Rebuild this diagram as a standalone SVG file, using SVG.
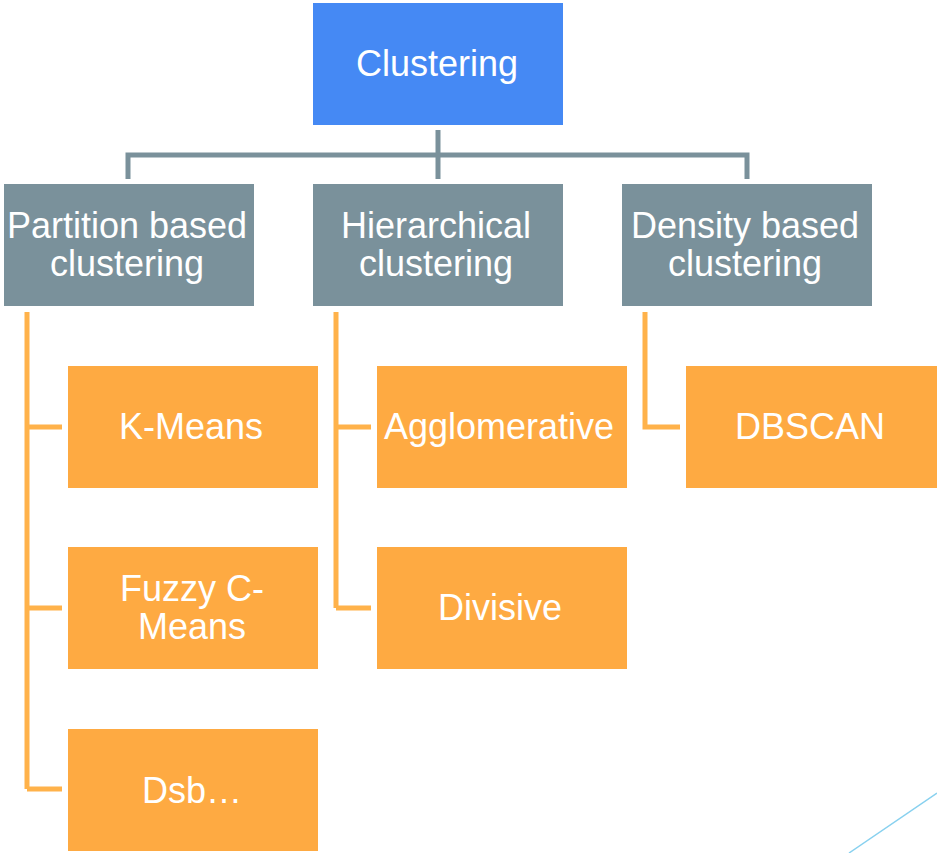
<svg xmlns="http://www.w3.org/2000/svg" width="937" height="853" viewBox="0 0 937 853">
  <style>
    .root { fill: #4589F4; }
    .cat { fill: #7A919B; }
    .leaf { fill: #FEAA42; }
    .lbl { font-family: "Liberation Sans", Arial, sans-serif; font-size: 36px; fill: #FFFFFF; text-anchor: middle; }
    .gline { fill: none; stroke: #7A919B; stroke-width: 5; }
    .oline { fill: none; stroke: #FFB24A; stroke-width: 5; }
  </style>
  <rect width="937" height="853" fill="#FFFFFF"/>

  <!-- connectors -->
  <g id="connectors">
    <path class="gline" d="M438 130 V179 M128 179 V155 H747 V179"/>
    <path class="oline" d="M27 312 V789 M27 427 H62 M27 608 H62 M27 789 H62"/>
    <path class="oline" d="M336 312 V608 M336 427 H371 M336 608 H371"/>
    <path class="oline" d="M645 312 V427 H680"/>
  </g>

  <!-- root -->
  <g id="clustering">
    <rect class="root" x="313" y="3" width="250" height="122"/>
    <text class="lbl" x="437" y="76">Clustering</text>
  </g>

  <!-- categories -->
  <g id="partition">
    <rect class="cat" x="4" y="184" width="250" height="122"/>
    <text class="lbl" x="127" y="238">Partition based</text>
    <text class="lbl" x="127" y="276">clustering</text>
  </g>
  <g id="hierarchical">
    <rect class="cat" x="313" y="184" width="250" height="122"/>
    <text class="lbl" x="436" y="238">Hierarchical</text>
    <text class="lbl" x="436" y="276">clustering</text>
  </g>
  <g id="density">
    <rect class="cat" x="622" y="184" width="250" height="122"/>
    <text class="lbl" x="745" y="238">Density based</text>
    <text class="lbl" x="745" y="276">clustering</text>
  </g>

  <!-- methods -->
  <g id="kmeans">
    <rect class="leaf" x="68" y="366" width="250" height="122"/>
    <text class="lbl" x="191" y="439">K-Means</text>
  </g>
  <g id="fuzzy">
    <rect class="leaf" x="68" y="547" width="250" height="122"/>
    <text class="lbl" x="192" y="601">Fuzzy C-</text>
    <text class="lbl" x="192" y="639">Means</text>
  </g>
  <g id="dsb">
    <rect class="leaf" x="68" y="729" width="250" height="122"/>
    <text class="lbl" x="192" y="803">Dsb…</text>
  </g>
  <g id="agglomerative">
    <rect class="leaf" x="377" y="366" width="250" height="122"/>
    <text class="lbl" x="499" y="439">Agglomerative</text>
  </g>
  <g id="divisive">
    <rect class="leaf" x="377" y="547" width="250" height="122"/>
    <text class="lbl" x="500" y="620">Divisive</text>
  </g>
  <g id="dbscan">
    <rect class="leaf" x="686" y="366" width="251" height="122"/>
    <text class="lbl" x="810" y="439">DBSCAN</text>
  </g>

  <!-- corner accent line -->
  <line x1="849" y1="853" x2="937" y2="793" stroke="#88D1EF" stroke-width="1.5"/>
</svg>
